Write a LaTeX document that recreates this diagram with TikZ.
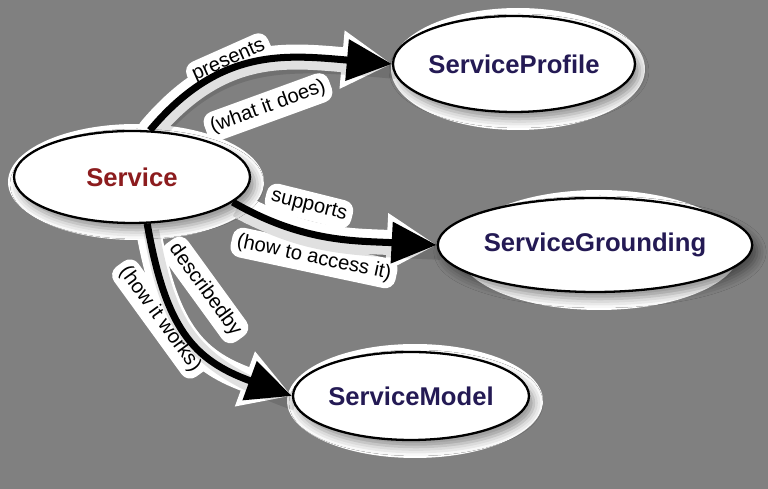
\documentclass[tikz,border=0pt]{standalone}
\usepackage{fontspec}
\setmainfont{Liberation Sans}
\usepackage{tikz}
\usetikzlibrary{arrows.meta,positioning,calc,shapes.geometric,shadows.blur}
\definecolor{bggray}{RGB}{128,128,128}
\definecolor{srvred}{RGB}{140,28,30}
\definecolor{srvblue}{RGB}{36,26,84}
\pgfdeclarelayer{background}
\pgfsetlayers{background,main}
\tikzset{
  srv/.style={ellipse,draw=black,line width=1.3pt,fill=white,inner sep=0pt,
    font=\fontsize{14.6}{16}\selectfont\bfseries,text=srvblue,
    blur shadow={shadow xshift=.1cm,shadow yshift=-.14cm,shadow blur radius=.18cm,shadow opacity=45}},
  rel/.style={line width=4pt,arrows={-Triangle[length=.9cm,width=.8cm]}},
  halo/.style={white,line width=.5cm,line cap=round,arrows={-Triangle[length=1cm,width=1.1cm]}},
  smear/.style={black,opacity=.12,line width=9pt,transform canvas={shift={(.08cm,-.14cm)}}},
  lbl/.style={font=\fontsize{11.5}{13}\selectfont,inner sep=3pt}
}

\begin{document}
\begin{tikzpicture}[x=0.02cm,y=0.02cm]
  \useasboundingbox (0,0) rectangle (768,489);
  \node[srv,text=srvred,minimum width=4.72cm,minimum height=1.84cm] (service) at (132,312) {Service};
  \node[srv,minimum width=4.68cm,minimum height=1.92cm] (profile) at (514,425) {ServiceProfile};
  \node[srv,minimum width=5.24cm,minimum height=1.88cm] (grounding) at (595,244) {ServiceGrounding};
  \node[srv,minimum width=4.72cm,minimum height=1.76cm] (model) at (411,93) {ServiceModel};

  \draw[rel] (service.69) to[out=50,in=175,looseness=1.1] (profile.west);
  \draw[rel] (service.-14) to[out=-30,in=177] (grounding.west);
  \draw[rel] (service.-72) to[out=-80,in=160,looseness=1.2] (model.west);

  \node[lbl,rotate=24] (presents) at (229,428) {presents};
  \node[lbl,rotate=20] (whatdoes) at (268,382) {(what it does)};
  \node[lbl,rotate=-14] (supports) at (309,283) {supports};
  \node[lbl,rotate=-12] (howaccess) at (314,231) {(how to access it)};
  \node[lbl,rotate=-54] (describedby) at (205,199) {describedby};
  \node[lbl,rotate=-54] (howworks) at (160,170) {(how it works)};

  \begin{pgfonlayer}{background}
    \fill[bggray] (0,0) rectangle (768,489);
    % white left round the shapes, with their shadows
    \fill[white] (136,307) ellipse[x radius=2.56cm,y radius=1.16cm];
    \fill[white] (518,420) ellipse[x radius=2.54cm,y radius=1.22cm];
    \fill[white] (599,239) ellipse[x radius=2.82cm,y radius=1.2cm];
    \fill[white] (415,88) ellipse[x radius=2.56cm,y radius=1.14cm];
    \draw[halo] (service.69) to[out=50,in=175,looseness=1.1] (profile.west);
    \draw[halo] (service.-14) to[out=-30,in=177] (grounding.west);
    \draw[halo] (service.-72) to[out=-80,in=160,looseness=1.2] (model.west);
    \fill[white,rounded corners=6pt] (presents.north west) -- (presents.north east) -- (presents.south east) -- (presents.south west) -- cycle;
    \fill[white,rounded corners=6pt] (whatdoes.north west) -- (whatdoes.north east) -- (whatdoes.south east) -- (whatdoes.south west) -- cycle;
    \fill[white,rounded corners=6pt] (supports.north west) -- (supports.north east) -- (supports.south east) -- (supports.south west) -- cycle;
    \fill[white,rounded corners=6pt] (howaccess.north west) -- (howaccess.north east) -- (howaccess.south east) -- (howaccess.south west) -- cycle;
    \fill[white,rounded corners=6pt] (describedby.north west) -- (describedby.north east) -- (describedby.south east) -- (describedby.south west) -- cycle;
    \fill[white,rounded corners=6pt] (howworks.north west) -- (howworks.north east) -- (howworks.south east) -- (howworks.south west) -- cycle;
    \draw[smear] (service.69) to[out=50,in=175,looseness=1.1] (profile.west);
    \draw[smear] (service.-14) to[out=-30,in=177] (grounding.west);
    \draw[smear] (service.-72) to[out=-80,in=160,looseness=1.2] (model.west);
  \end{pgfonlayer}
\end{tikzpicture}
\end{document}
